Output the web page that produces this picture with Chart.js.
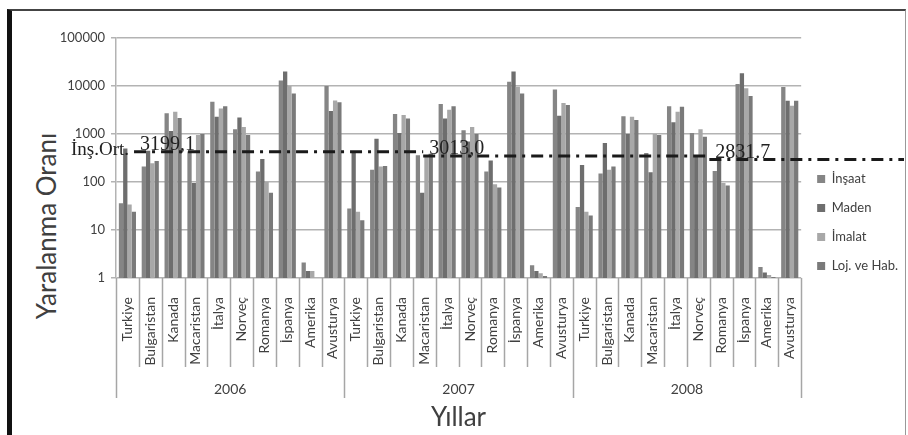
<!DOCTYPE html>
<html>
<head>
<meta charset="utf-8">
<script src="https://cdn.jsdelivr.net/npm/chart.js@4.4.1/dist/chart.umd.min.js"></script>
<style>
    html, body { margin: 0; padding: 0; background: #fff; }
    #wrap { position: relative; width: 908px; height: 435px; overflow: hidden; }
    #frame {
        position: absolute; left: 7px; top: 9px; width: 899px; height: 440px;
        border-left: 5px solid #111; border-top: 2px solid #444; border-right: 1px solid #999;
        box-sizing: border-box;
    }
    #ytitle {
        position: absolute; left: 46px; top: 226px;
        transform: translate(-50%, -50%) rotate(-90deg);
        font: 26px Lato, sans-serif; color: #404040; white-space: nowrap;
    }
    canvas { position: absolute; left: 0; top: 0; }
</style>
</head>
<body>
<div id="wrap">
    <div id="frame"></div>
    <div id="ytitle">Yaralanma Oranı</div>
    <canvas id="chart" width="908" height="435"></canvas>
</div>
<script>
const countries = ['Turkiye', 'Bulgaristan', 'Kanada', 'Macaristan', 'İtalya', 'Norveç', 'Romanya', 'İspanya', 'Amerika', 'Avusturya'];
const years = ['2006', '2007', '2008'];
const yTicks = [1, 10, 100, 1000, 10000, 100000];

// one value per country, 2006 then 2007 then 2008
const insaat = [36, 210, 2700, 430, 4700, 1250, 165, 13000, 2.1, 10000,
                28, 180, 2600, 360, 4200, 1200, 165, 12300, 1.85, 8500,
                30, 150, 2350, 400, 3800, 1050, 170, 11000, 1.7, 9500];
const maden = [500, 450, 1150, 95, 2300, 2200, 300, 20000, 1.4, 3000,
               430, 800, 1050, 60, 2100, 700, 280, 20000, 1.4, 2400,
               225, 650, 1000, 160, 1750, 350, 290, 18500, 1.3, 4900];
const imalat = [34, 245, 2900, 950, 3400, 1400, 100, 10000, 1.4, 5000,
                24, 210, 2500, 330, 3200, 1400, 90, 9600, 1.25, 4400,
                24, 180, 2300, 1000, 2900, 1250, 95, 9000, 1.15, 3900];
const lojHab = [24, 275, 2150, 1000, 3800, 950, 60, 7000, 1.0, 4600,
                16, 215, 2100, 390, 3800, 1000, 77, 7000, 1.1, 4000,
                20, 210, 1950, 950, 3700, 880, 85, 6200, 1.05, 4900];

// "İnş.Ort." reference line: level, label, start (in category units)
const ortValues = [428, 348, 294];
const ortTexts = ['3199,1', '3013,0', '2831.7'];
const ortStart = [0.29, 12.95, 25.48];

const labels = years.flatMap(() => countries);
const textColor = '#404040';
const gridColor = '#b3b3b3';

const separators = {
    id: 'separators',
    afterDraw(chart) {
        const { ctx } = chart;
        const xs = chart.scales.x, x2 = chart.scales.x2;
        ctx.save();
        ctx.strokeStyle = '#a6a6a6';
        ctx.lineWidth = 1.5;
        ctx.beginPath();
        for (let i = 0; i <= labels.length; i++) {
            const px = Math.round(xs.getPixelForValue(i - 0.5)) + 0.5;
            const bottom = i % countries.length === 0 ? x2.top + 29 : xs.bottom - 2;
            ctx.moveTo(px, xs.top);
            ctx.lineTo(px, bottom);
        }
        ctx.stroke();
        ctx.restore();
    }
};

const ortLine = {
    id: 'ortLine',
    afterDraw(chart) {
        const { ctx } = chart;
        const xs = chart.scales.x, ys = chart.scales.y;
        ctx.save();
        ctx.strokeStyle = '#1a1a1a';
        ctx.lineWidth = 3;
        ctx.setLineDash([12, 6, 3, 6]);
        for (let i = 0; i < ortValues.length; i++) {
            const x0 = xs.getPixelForValue(ortStart[i]);
            const x1 = i + 1 < ortValues.length ? xs.getPixelForValue(ortStart[i + 1]) : chart.width - 4;
            const py = ys.getPixelForValue(ortValues[i]);
            ctx.beginPath();
            ctx.moveTo(x0, py);
            ctx.lineTo(x1, py);
            ctx.stroke();
        }
        ctx.setLineDash([]);
        ctx.font = '20px "Liberation Serif"';
        ctx.fillStyle = '#222';
        ctx.textBaseline = 'alphabetic';
        ctx.textAlign = 'left';
        for (let i = 0; i < ortValues.length; i++) {
            const x0 = xs.getPixelForValue(ortStart[i]);
            ctx.fillText(ortTexts[i], x0 + 6, ys.getPixelForValue(ortValues[i]) - 2);
        }
        ctx.font = '19px "Liberation Serif"';
        ctx.textAlign = 'right';
        ctx.fillText('İnş.Ort.', xs.getPixelForValue(ortStart[0]) - 5, ys.getPixelForValue(ortValues[0]) + 3);
        ctx.restore();
    }
};

function series(label, data, color) {
    return {
        label: label,
        data: data,
        backgroundColor: color,
        borderWidth: 0,
        barPercentage: 1,
        categoryPercentage: 0.75
    };
}

new Chart(document.getElementById('chart'), {
    type: 'bar',
    data: {
        labels: labels,
        datasets: [
            series('İnşaat', insaat, '#858585'),
            series('Maden', maden, '#6e6e6e'),
            series('İmalat', imalat, '#a8a8a8'),
            series('Loj. ve Hab.', lojHab, '#7a7a7a')
        ]
    },
    options: {
        responsive: false,
        animation: false,
        layout: { padding: { left: 50, top: 10, right: 0, bottom: 0 } },
        plugins: {
            tooltip: { enabled: false },
            // empty spacer above the plot, so the legend can sit higher
            title: {
                display: true,
                text: ' ',
                fullSize: false,
                font: { size: 20, lineHeight: 1 },
                padding: 4
            },
            legend: {
                position: 'right',
                align: 'center',
                labels: {
                    boxWidth: 8,
                    boxHeight: 8,
                    padding: 16,
                    color: textColor,
                    font: { family: 'Lato', size: 13 }
                }
            }
        },
        scales: {
            x: {
                offset: true,
                grid: { display: false },
                border: { display: false },
                ticks: {
                    autoSkip: false,
                    minRotation: 90,
                    maxRotation: 90,
                    padding: 11,
                    color: textColor,
                    font: { family: 'Lato', size: 14 }
                },
                afterFit: s => { s.height = 91; }
            },
            x2: {
                type: 'category',
                axis: 'x',
                position: 'bottom',
                labels: years,
                offset: true,
                weight: 1,
                grid: { display: false },
                border: { display: false },
                ticks: {
                    maxRotation: 0,
                    padding: 4,
                    color: textColor,
                    font: { family: 'Lato', size: 14 }
                },
                title: {
                    display: true,
                    text: 'Yıllar',
                    color: textColor,
                    font: { family: 'Lato', size: 26, lineHeight: 1.2 },
                    padding: { top: 0, bottom: 2 }
                },
                afterFit: s => { s.height = 66; }
            },
            y: {
                type: 'logarithmic',
                min: 1,
                max: 100000,
                afterBuildTicks: s => { s.ticks = yTicks.map(v => ({ value: v })); },
                ticks: {
                    callback: v => String(v),
                    padding: 6,
                    color: textColor,
                    font: { family: 'Lato', size: 13 }
                },
                grid: { color: gridColor, lineWidth: 1.5, tickLength: 5 },
                border: { color: gridColor, width: 1.5 },
                afterFit: s => { s.width = 66; }
            }
        }
    },
    plugins: [separators, ortLine]
});
</script>
</body>
</html>
